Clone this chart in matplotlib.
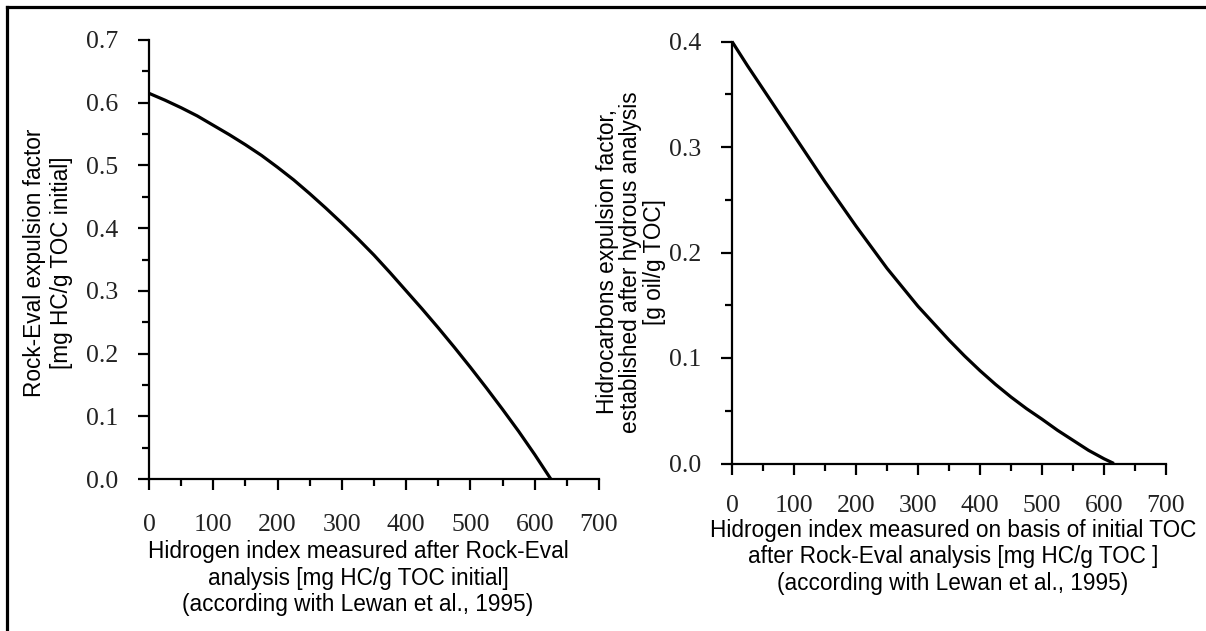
import matplotlib
matplotlib.use("Agg")
import matplotlib.pyplot as plt
from matplotlib.ticker import MultipleLocator
from matplotlib.lines import Line2D

# ---- data ----
left_x = [0, 25, 50, 75, 100, 125, 150, 175, 200, 225, 250, 275, 300, 325, 350, 375,
          400, 425, 450, 475, 500, 525, 550, 575, 600, 625]
left_y = [0.615, 0.604, 0.592, 0.579, 0.564, 0.549, 0.533, 0.516, 0.497, 0.477, 0.455, 0.432,
          0.408, 0.383, 0.357, 0.329, 0.300, 0.271, 0.241, 0.210, 0.178, 0.145, 0.111, 0.076,
          0.039, 0.0]

right_x = [0, 25, 50, 75, 100, 125, 150, 175, 200, 225, 250, 275, 300, 325, 350, 375,
           400, 425, 450, 475, 500, 525, 550, 575, 600, 616]
right_y = [0.400, 0.377, 0.355, 0.333, 0.311, 0.289, 0.267, 0.246, 0.225, 0.205, 0.185, 0.167,
           0.149, 0.133, 0.117, 0.102, 0.088, 0.075, 0.063, 0.052, 0.042, 0.0315, 0.022, 0.0125,
           0.0045, 0.0]

x_ticks = [0, 100, 200, 300, 400, 500, 600, 700]
left_yticks = [0.0, 0.1, 0.2, 0.3, 0.4, 0.5, 0.6, 0.7]
right_yticks = [0.0, 0.1, 0.2, 0.3, 0.4]

left_xlabel = "Hidrogen index measured after Rock-Eval\nanalysis [mg HC/g TOC initial]\n(according with Lewan et al., 1995)"
left_ylabel = "Rock-Eval expulsion factor\n[mg HC/g TOC initial]"
right_xlabel = "Hidrogen index measured on basis of initial TOC\nafter Rock-Eval analysis [mg HC/g TOC ]\n(according with Lewan et al., 1995)"
right_ylabel = "Hidrocarbons expulsion factor,\nestablished after hydrous analysis\n[g oil/g TOC]"

W, H = 1206, 631
fig = plt.figure(figsize=(W / 100, H / 100), dpi=100)
fig.patch.set_facecolor("white")

SERIF = "Liberation Serif"
SANS = "Liberation Sans"
TICKFS = 18.5
LABFS = 16.3


def px_rect(x0, x1, ytop, ybot):
    return [x0 / W, 1 - ybot / H, (x1 - x0) / W, (ybot - ytop) / H]


def style(ax, yticks, ymax, xpad):
    ax.set_xlim(0, 700)
    ax.set_ylim(0, ymax)
    ax.set_xticks(x_ticks)
    ax.set_yticks(yticks)
    ax.xaxis.set_minor_locator(MultipleLocator(50))
    ax.yaxis.set_minor_locator(MultipleLocator(0.05))
    ax.set_xticklabels([str(v) for v in x_ticks], fontfamily=SERIF, fontsize=TICKFS, color="#222222")
    ax.set_yticklabels([f"{v:.1f}" for v in yticks], fontfamily=SERIF, fontsize=TICKFS, color="#222222")
    for s in ("top", "right"):
        ax.spines[s].set_visible(False)
    for s in ("left", "bottom"):
        ax.spines[s].set_linewidth(1.6)
        ax.spines[s].set_color("black")
    ax.tick_params(which="major", direction="out", length=8, width=1.6, color="black")
    ax.tick_params(which="minor", direction="out", length=5, width=1.6, color="black")
    ax.tick_params(axis="x", which="major", pad=xpad)
    ax.tick_params(axis="y", which="major", pad=14)


axL = fig.add_axes(px_rect(149, 599, 40, 479))
style(axL, left_yticks, 0.7, 17)
axL.plot(left_x, left_y, color="black", lw=2.3, clip_on=False, solid_capstyle="butt")

axR = fig.add_axes(px_rect(732, 1166, 41.5, 463.5))
style(axR, right_yticks, 0.4, 14.5)
axR.plot(right_x, right_y, color="black", lw=2.3, clip_on=False, solid_capstyle="butt")

# axis labels
fig.text(358 / W, 1 - 578 / H, left_xlabel, ha="center", va="center", fontfamily=SANS,
         fontsize=LABFS, linespacing=1.18)
fig.text(953 / W, 1 - 557 / H, right_xlabel, ha="center", va="center", fontfamily=SANS,
         fontsize=LABFS, linespacing=1.18)
fig.text(48 / W, 1 - 263 / H, left_ylabel, ha="center", va="center", rotation=90,
         rotation_mode="anchor", fontfamily=SANS, fontsize=LABFS, linespacing=1.2)
fig.text(631 / W, 1 - 262 / H, right_ylabel, ha="center", va="center", rotation=90,
         rotation_mode="anchor", fontfamily=SANS, fontsize=LABFS, linespacing=1.05)

# frame lines (top and left only, as in the reference)
fig.add_artist(Line2D([7 / W, 1.0], [1 - 7 / H, 1 - 7 / H], transform=fig.transFigure,
                      color="black", lw=2.3))
fig.add_artist(Line2D([7 / W, 7 / W], [0.0, 1 - 7 / H], transform=fig.transFigure,
                      color="black", lw=2.3))

fig.savefig("out.png", dpi=100, facecolor="white")
